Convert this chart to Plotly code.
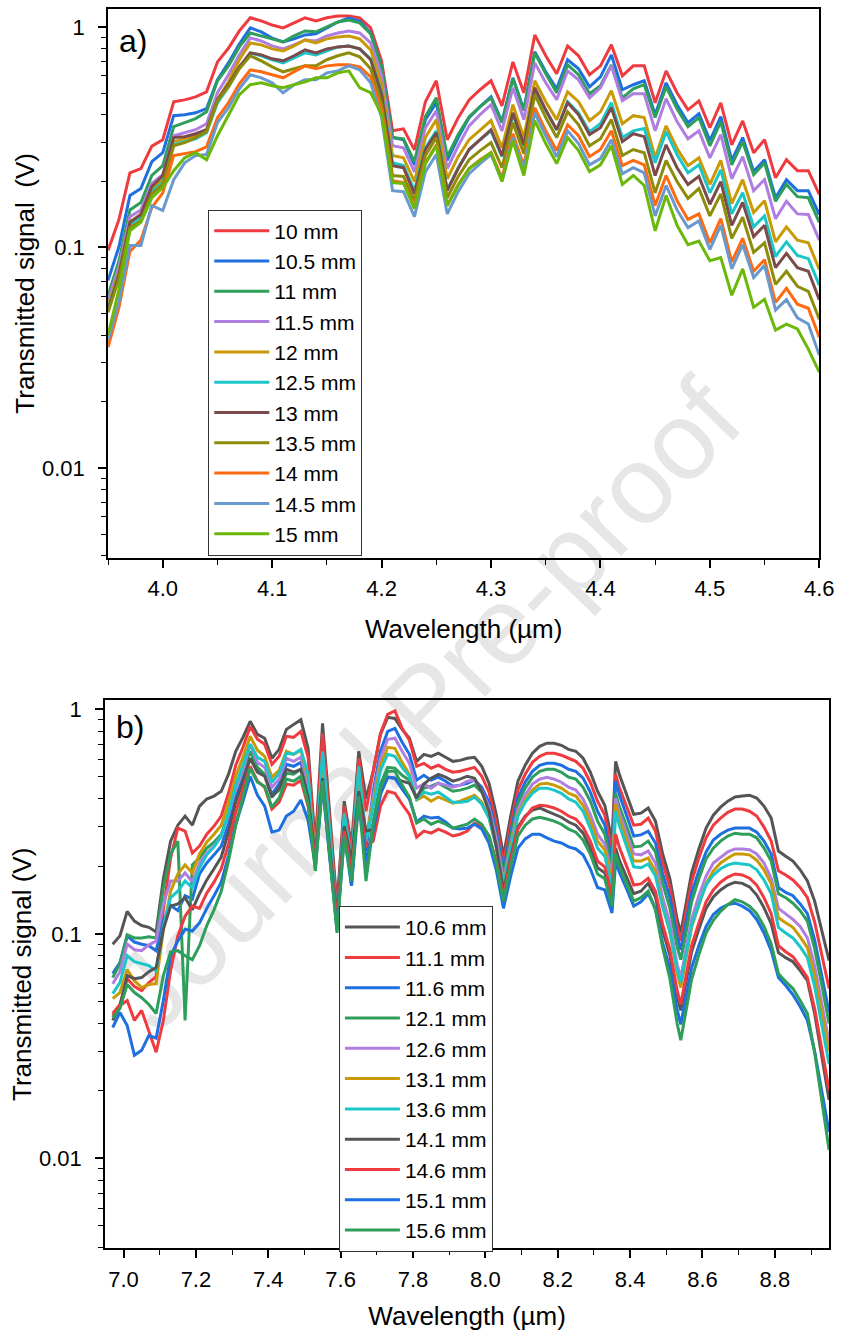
import plotly.graph_objects as go

# ---------------- panel a) data ----------------
wl_a = [3.95, 3.96, 3.97, 3.98, 3.99, 4.00, 4.01, 4.02, 4.03, 4.04, 4.05, 4.06, 4.07, 4.08, 4.09,
        4.10, 4.11, 4.12, 4.13, 4.14, 4.15, 4.16, 4.17, 4.18, 4.19, 4.20, 4.21, 4.22, 4.23, 4.24,
        4.25, 4.26, 4.27, 4.28, 4.29, 4.30, 4.31, 4.32, 4.33, 4.34, 4.35, 4.36, 4.37, 4.38, 4.39,
        4.40, 4.41, 4.42, 4.43, 4.44, 4.45, 4.46, 4.47, 4.48, 4.49, 4.50, 4.51, 4.52, 4.53, 4.54,
        4.55, 4.56, 4.57, 4.58, 4.59, 4.60]

a_10 = [.097, .134, .218, .228, .288, .308, .458, .467, .482, .508, .694, .80, .96, 1.10, 1.065,
        1.02, .99, 1.04, 1.10, 1.065, 1.10, 1.12, 1.12, 1.10, .99, .70, .338, .345, .277, .458,
        .57, .308, .388, .467, .519, .57, .439, .694, .503, .92, .74, .613, .82, .74, .607,
        .666, .83, .60, .666, .666, .453, .632, .503, .421, .462, .349, .453, .292, .375, .269,
        .308, .207, .25, .223, .223, .174]
a_10_5 = [.0709, .101, .172, .185, .245, .269, .396, .400, .408, .426, .576, .687, .837, .99, .95,
          .89, .855, .883, .92, .93, .99, 1.053, 1.098, 1.064, .939, .659, .315, .308, .237, .380,
          .453, .248, .315, .388, .435, .482, .372, .588, .421, .771, .626, .524, .710, .646, .535,
          .594, .747, .519, .547, .570, .400, .558, .444, .368, .404, .305, .392, .248, .315, .221,
          .250, .168, .203, .181, .181, .141]
a_11 = [.0607, .087, .148, .160, .212, .235, .353, .368, .384, .412, .570, .666, .812, .939, .91,
        .883, .855, .91, .959, .95, 1.00, 1.053, 1.075, 1.043, .93, .659, .315, .311, .245, .392,
        .477, .258, .325, .392, .435, .477, .368, .582, .417, .763, .613, .503, .673, .607, .498,
        .541, .673, .477, .524, .547, .388, .535, .426, .353, .388, .289, .372, .237, .302, .214,
        .242, .162, .193, .170, .168, .130]
a_11_5 = [.0576, .082, .138, .148, .195, .214, .321, .331, .342, .364, .503, .607, .747, .892, .864,
          .82, .795, .829, .873, .864, .91, .939, .959, .939, .846, .60, .289, .283, .220, .349,
          .417, .228, .289, .356, .400, .444, .338, .530, .380, .687, .558, .468, .632, .576, .477,
          .530, .666, .463, .498, .498, .338, .473, .372, .311, .338, .255, .325, .205, .258, .181,
          .203, .135, .162, .142, .141, .108]
a_12 = [.0547, .0779, .131, .141, .185, .203, .302, .311, .321, .342, .468, .564, .710, .846, .829,
        .795, .779, .82, .873, .846, .883, .901, .91, .883, .787, .547, .261, .255, .199, .315,
        .380, .205, .258, .308, .342, .376, .283, .444, .315, .570, .458, .380, .508, .458, .376,
        .412, .514, .364, .396, .388, .255, .356, .281, .235, .255, .193, .248, .158, .203, .144,
        .163, .106, .124, .108, .105, .0795]
a_12_5 = [.053, .0755, .127, .137, .179, .197, .292, .302, .311, .331, .453, .535, .652, .763, .74,
          .71, .687, .724, .763, .747, .779, .812, .82, .795, .717, .503, .242, .235, .181, .283,
          .338, .183, .230, .278, .308, .338, .258, .400, .286, .519, .417, .342, .458, .408, .335,
          .364, .453, .315, .338, .346, .242, .335, .264, .218, .237, .177, .225, .142, .177, .124,
          .139, .091, .106, .092, .089, .0674]
a_13 = [.0519, .0755, .130, .141, .189, .212, .315, .318, .328, .342, .468, .547, .659, .763, .747,
        .717, .702, .74, .787, .763, .795, .812, .82, .795, .710, .493, .235, .230, .175, .278,
        .331, .181, .228, .278, .308, .342, .261, .408, .292, .530, .421, .342, .453, .400, .325,
        .349, .430, .302, .328, .318, .212, .292, .230, .193, .210, .157, .199, .126, .160, .112,
        .126, .081, .094, .081, .078, .058]
a_13_5 = [.0508, .0724, .123, .132, .175, .193, .289, .299, .315, .335, .463, .535, .646, .74, .702,
          .659, .626, .646, .666, .666, .71, .74, .763, .732, .646, .449, .212, .210, .163, .261,
          .315, .168, .210, .25, .275, .299, .230, .368, .266, .493, .388, .315, .412, .360, .289,
          .311, .380, .261, .278, .269, .177, .248, .199, .167, .185, .139, .175, .110, .137, .095,
          .105, .068, .078, .0667, .0633, .0473]
a_14 = [.0353, .0535, .096, .108, .152, .177, .261, .266, .272, .286, .388, .453, .552, .639, .626,
        .607, .588, .626, .666, .646, .666, .673, .673, .659, .594, .417, .201, .197, .153, .242,
        .292, .155, .193, .228, .25, .269, .207, .328, .235, .430, .338, .275, .360, .321, .258,
        .278, .338, .235, .248, .237, .155, .212, .163, .134, .142, .105, .135, .086, .110, .078,
        .088, .0564, .0653, .0553, .053, .0392]
a_14_5 = [.038, .057, .102, .102, .155, .147, .203, .242, .261, .264, .368, .430, .524, .607, .588,
          .558, .503, .547, .576, .576, .619, .632, .666, .639, .558, .388, .181, .179, .138, .220,
          .264, .142, .179, .216, .240, .264, .201, .315, .225, .408, .321, .258, .338, .296, .237,
          .253, .308, .216, .230, .218, .139, .191, .148, .123, .132, .098, .126, .080, .103, .073,
          .083, .052, .058, .048, .045, .0325]
a_15 = [.040, .0646, .119, .130, .168, .187, .223, .255, .269, .25, .321, .400, .493, .547, .558,
        .541, .530, .547, .564, .588, .588, .619, .632, .530, .503, .400, .197, .195, .150, .240,
        .289, .155, .191, .228, .248, .269, .199, .305, .212, .376, .296, .240, .315, .275, .221,
        .237, .289, .193, .212, .191, .119, .172, .126, .103, .107, .087, .090, .0607, .080, .0535,
        .0582, .0422, .0449, .0427, .0346, .0272]

names_a = ["10 mm", "10.5 mm", "11 mm", "11.5 mm", "12 mm", "12.5 mm",
           "13 mm", "13.5 mm", "14 mm", "14.5 mm", "15 mm"]
colors_a = ["#EF3B3F", "#1E6FE0", "#2E9E5B", "#B07EE0", "#C99A06", "#1BC6C9",
            "#7B4B4B", "#8C8C0A", "#FF6A10", "#6A9ACD", "#6AB80A"]
series_a = [a_10, a_10_5, a_11, a_11_5, a_12, a_12_5, a_13, a_13_5, a_14, a_14_5, a_15]

# ---------------- panel b) data ----------------
wl_b = [6.97, 6.99, 7.01, 7.03, 7.05, 7.07, 7.09, 7.11, 7.13, 7.15, 7.17, 7.19, 7.21, 7.23, 7.25,
        7.27, 7.29, 7.31, 7.33, 7.35, 7.37, 7.39, 7.41, 7.43, 7.45, 7.47, 7.49, 7.51, 7.53, 7.55,
        7.57, 7.59, 7.61, 7.63, 7.65, 7.67, 7.69, 7.71, 7.73, 7.75, 7.77, 7.79, 7.81, 7.83, 7.85,
        7.87, 7.89, 7.91, 7.93, 7.95, 7.97, 7.99, 8.01, 8.03, 8.05, 8.07, 8.09, 8.11, 8.13, 8.15,
        8.17, 8.19, 8.21, 8.23, 8.25, 8.27, 8.29, 8.31, 8.33, 8.35, 8.36, 8.37, 8.39, 8.41, 8.43,
        8.45, 8.47, 8.49, 8.51, 8.53, 8.54, 8.55, 8.57, 8.59, 8.61, 8.63, 8.65, 8.67, 8.69, 8.71,
        8.73, 8.75, 8.77, 8.79, 8.81, 8.83, 8.85, 8.87, 8.89, 8.91, 8.93, 8.95]

b_10_6 = [.090, .098, .126, .114, .109, .107, .102, .176, .259, .305, .335, .305, .371, .399, .411,
          .432, .514, .651, .751, .885, .774, .744, .606, .664, .815, .860, .900, .671, .246, .867,
          .335, .133, .390, .246, .651, .399, .530, .774, .922, .912, .815, .744, .587, .631, .618,
          .638, .612, .587, .593, .606, .612, .558, .469, .341, .222, .335, .479, .564, .638, .685,
          .707, .707, .692, .664, .651, .606, .525, .432, .374, .259, .587, .514, .419, .341, .345,
          .364, .318, .227, .176, .116, .101, .123, .187, .239, .296, .338, .367, .390, .407, .411,
          .415, .403, .371, .328, .234, .222, .211, .193, .172, .140, .103, .076]
b_11_1 = [.0442, .0485, .0632, .0583, .0559, .0607, .0645, .128, .218, .296, .287, .229, .246, .278, .302,
          .335, .423, .564, .678, .840, .736, .699, .569, .618, .759, .751, .798, .612, .234, .782,
          .312, .127, .371, .234, .606, .352, .530, .782, .951, .985, .823, .729, .558, .575, .547,
          .564, .541, .525, .530, .541, .552, .504, .428, .312, .207, .308, .437, .514, .581, .618,
          .638, .638, .625, .606, .587, .547, .474, .390, .338, .234, .514, .450, .371, .305, .308,
          .328, .287, .207, .161, .108, .093, .113, .170, .218, .268, .305, .328, .348, .360, .360,
          .352, .335, .299, .259, .191, .183, .174, .161, .145, .113, .0808, .0571]
b_11_6 = [.0665, .0745, .098, .092, .090, .0886, .0842, .115, .134, .127, .148, .143, .185, .207, .225,
          .246, .308, .407, .494, .606, .530, .514, .419, .465, .569, .558, .581, .441, .207, .547,
          .259, .116, .335, .164, .504, .234, .432, .651, .798, .823, .714, .631, .484, .509, .484,
          .499, .479, .455, .460, .469, .484, .450, .386, .287, .191, .284, .403, .474, .530, .564,
          .575, .575, .564, .541, .530, .494, .428, .352, .305, .211, .479, .419, .338, .273, .276,
          .287, .254, .185, .145, .097, .085, .102, .152, .191, .232, .262, .278, .290, .296, .296,
          .296, .284, .259, .227, .161, .153, .148, .136, .123, .094, .0645, .0447]
b_12_1 = [.0639, .0737, .099, .096, .096, .097, .096, .161, .227, .259, .0412, .203, .218, .241, .256,
          .278, .345, .450, .536, .651, .552, .514, .411, .437, .519, .514, .541, .415, .195, .519,
          .234, .109, .287, .172, .432, .191, .318, .465, .552, .547, .509, .484, .399, .446, .455,
          .469, .450, .432, .437, .446, .460, .428, .367, .273, .181, .270, .382, .446, .499, .530,
          .541, .541, .525, .499, .489, .450, .390, .318, .278, .195, .423, .371, .302, .244, .246,
          .259, .232, .168, .130, .0877, .0768, .092, .139, .176, .216, .241, .259, .273, .281, .278,
          .278, .268, .241, .211, .151, .145, .137, .127, .114, .086, .0589, .0399]
b_12_6 = [.060, .0679, .090, .085, .0842, .0894, .093, .136, .172, .172, .187, .170, .207, .229, .246,
          .273, .338, .446, .541, .700, .581, .552, .450, .489, .606, .587, .612, .465, .216, .575,
          .273, .103, .318, .191, .530, .259, .407, .606, .736, .744, .651, .575, .446, .465, .446,
          .469, .460, .450, .460, .479, .484, .437, .367, .265, .172, .254, .360, .415, .465, .489,
          .499, .489, .474, .450, .437, .399, .341, .278, .251, .181, .403, .348, .281, .227, .225,
          .234, .207, .145, .112, .0730, .0639, .0775, .116, .148, .181, .207, .220, .232, .239, .239,
          .237, .227, .207, .177, .130, .123, .116, .108, .096, .0722, .0485, .0329]
b_13_1 = [.0515, .0548, .0693, .0619, .0577, .0595, .0601, .104, .155, .185, .203, .187, .227, .256, .278,
          .305, .382, .504, .612, .759, .658, .618, .499, .536, .651, .631, .658, .494, .220, .606,
          .273, .112, .325, .201, .530, .273, .386, .564, .678, .671, .581, .514, .395, .411, .390,
          .407, .395, .382, .390, .403, .415, .386, .331, .246, .164, .241, .341, .395, .437, .465,
          .469, .460, .446, .423, .411, .374, .318, .259, .237, .172, .378, .328, .265, .211, .211,
          .218, .189, .133, .102, .0672, .0577, .0700, .107, .134, .167, .191, .207, .218, .227, .227,
          .225, .213, .193, .167, .118, .112, .107, .097, .0868, .0652, .0442, .0300]
b_13_6 = [.0542, .0607, .0800, .0752, .0737, .0722, .0686, .108, .145, .155, .172, .161, .197, .225, .244,
          .273, .345, .460, .564, .700, .612, .587, .474, .519, .638, .631, .664, .514, .199, .651,
          .287, .114, .345, .211, .558, .259, .371, .536, .631, .618, .552, .504, .399, .428, .419,
          .428, .407, .386, .386, .390, .407, .378, .328, .244, .164, .239, .335, .386, .423, .446,
          .446, .437, .423, .399, .386, .352, .296, .241, .222, .164, .352, .305, .246, .199, .197,
          .205, .181, .132, .103, .0693, .0607, .0730, .109, .136, .165, .183, .195, .203, .207, .205,
          .203, .193, .174, .151, .107, .101, .096, .0877, .0784, .0583, .0391, .0263]
b_14_1 = [.0412, .0475, .0652, .0632, .0639, .0679, .0708, .105, .133, .136, .145, .128, .151, .174, .195,
          .220, .284, .386, .479, .606, .525, .504, .407, .446, .541, .525, .541, .407, .222, .494,
          .239, .120, .302, .211, .432, .287, .293, .423, .499, .494, .479, .469, .403, .465, .494,
          .514, .499, .479, .489, .504, .494, .432, .352, .246, .155, .220, .299, .335, .356, .364,
          .352, .341, .331, .315, .305, .281, .241, .197, .187, .140, .241, .213, .179, .151, .155,
          .168, .146, .104, .0800, .0526, .0456, .0553, .0833, .105, .130, .146, .157, .165, .170, .168,
          .162, .149, .131, .111, .0825, .0784, .0752, .0686, .0619, .0442, .0282, .0182]
b_14_6 = [.0433, .0480, .0505, .0412, .0456, .0372, .0297, .0412, .0686, .098, .120, .133, .130, .152, .170,
          .195, .251, .348, .437, .558, .479, .450, .360, .386, .465, .460, .484, .371, .216, .469,
          .222, .116, .287, .191, .390, .246, .259, .371, .432, .423, .378, .341, .270, .287, .281,
          .293, .284, .273, .278, .287, .312, .302, .273, .211, .148, .213, .293, .331, .364, .374,
          .371, .364, .352, .335, .325, .299, .259, .211, .199, .148, .278, .244, .201, .165, .167,
          .177, .155, .110, .0851, .0559, .0485, .0589, .0886, .112, .139, .157, .170, .179, .185, .183,
          .177, .165, .145, .123, .0886, .0833, .0792, .0715, .0639, .0465, .0306, .0201]
b_15_1 = [.0383, .0447, .0391, .0288, .0303, .0353, .0343, .0505, .0800, .093, .105, .103, .112, .130, .148,
          .170, .222, .308, .390, .504, .415, .371, .284, .290, .335, .352, .395, .321, .201, .460,
          .216, .105, .273, .164, .390, .211, .287, .419, .499, .494, .441, .399, .315, .335, .328,
          .331, .315, .296, .293, .296, .308, .293, .254, .193, .130, .181, .241, .265, .278, .278,
          .268, .259, .254, .244, .239, .225, .195, .161, .157, .124, .211, .189, .159, .133, .139,
          .151, .130, .091, .0700, .0460, .0395, .0475, .0708, .0886, .108, .122, .130, .135, .137, .133,
          .127, .116, .101, .0842, .0639, .0589, .0536, .0475, .0412, .0300, .0199, .0131]
b_15_6 = [.0424, .0465, .0595, .0548, .0520, .0485, .0442, .0652, .0833, .0842, .0800, .0768, .0886, .109, .128,
          .155, .211, .305, .407, .547, .474, .455, .367, .403, .489, .479, .504, .382, .191, .479,
          .222, .101, .273, .172, .411, .172, .305, .446, .530, .530, .460, .407, .312, .325, .308,
          .318, .308, .296, .302, .308, .325, .308, .273, .207, .140, .201, .273, .305, .325, .331,
          .325, .318, .308, .293, .284, .262, .227, .185, .176, .133, .227, .201, .167, .140, .145,
          .155, .128, .0868, .0632, .0399, .0336, .0408, .0626, .0808, .101, .115, .126, .135, .142, .139,
          .133, .123, .108, .0902, .0665, .0613, .0571, .0505, .0442, .0297, .0182, .0109]

names_b = ["10.6 mm", "11.1 mm", "11.6 mm", "12.1 mm", "12.6 mm", "13.1 mm",
           "13.6 mm", "14.1 mm", "14.6 mm", "15.1 mm", "15.6 mm"]
colors_b = ["#555555", "#EF3B3F", "#1E6FE0", "#2E9E5B", "#B07EE0", "#C99A06",
            "#1BC6C9", "#555555", "#EF3B3F", "#1E6FE0", "#2E9E5B"]
series_b = [b_10_6, b_11_1, b_11_6, b_12_1, b_12_6, b_13_1, b_13_6, b_14_1, b_14_6, b_15_1, b_15_6]

y_ticks = [0.01, 0.1, 1]
y_ticktext = ["0.01", "0.1", "1"]
y_minor = [m * d for d in (0.001, 0.01, 0.1, 1) for m in range(2, 10)]
xa_ticks = [4.0, 4.1, 4.2, 4.3, 4.4, 4.5, 4.6]
xa_minor = [3.95, 4.05, 4.15, 4.25, 4.35, 4.45, 4.55]
xb_ticks = [7.0, 7.2, 7.4, 7.6, 7.8, 8.0, 8.2, 8.4, 8.6, 8.8]
xb_minor = [6.9, 7.1, 7.3, 7.5, 7.7, 7.9, 8.1, 8.3, 8.5, 8.7, 8.9]

FONT = "Liberation Sans, Arial, sans-serif"
W, H = 850, 1338   # the page renders the figure 1:1 at this width

fig = go.Figure()
for nm, col, ys in zip(names_a, colors_a, series_a):
    fig.add_trace(go.Scatter(x=wl_a, y=ys, name=nm, mode="lines",
                             line=dict(color=col, width=3), xaxis="x", yaxis="y",
                             legend="legend"))
for nm, col, ys in zip(names_b, colors_b, series_b):
    fig.add_trace(go.Scatter(x=wl_b, y=ys, name=nm, mode="lines",
                             line=dict(color=col, width=3), xaxis="x2", yaxis="y2",
                             legend="legend2"))

def xax(domain, rng, ticks, minor, anchor, standoff):
    return dict(domain=domain, range=rng, anchor=anchor,
                tickmode="array", tickvals=ticks, ticktext=[f"{t:.1f}" for t in ticks],
                ticks="outside", ticklen=8, tickwidth=1.6, tickcolor="black",
                minor=dict(tickmode="array", tickvals=minor, ticks="outside",
                           ticklen=5, tickwidth=1.4, tickcolor="black"),
                showline=True, linewidth=1.8, linecolor="black", mirror=True,
                showgrid=False, zeroline=False, ticklabelstandoff=2,
                ticklabeloverflow="allow",
                tickfont=dict(size=22, family=FONT, color="black"),
                title=dict(text="Wavelength (µm)", font=dict(size=26, family=FONT, color="black"),
                           standoff=standoff))

def yax(domain, rng, anchor, title):
    return dict(domain=domain, range=rng, type="log", anchor=anchor,
                tickmode="array", tickvals=y_ticks, ticktext=y_ticktext,
                ticks="outside", ticklen=8, tickwidth=1.6, tickcolor="black",
                minor=dict(tickmode="array", tickvals=y_minor, ticks="outside",
                           ticklen=5, tickwidth=1.4, tickcolor="black"),
                showline=True, linewidth=1.8, linecolor="black", mirror=True,
                showgrid=False, zeroline=False, ticklabelstandoff=9,
                tickfont=dict(size=22, family=FONT, color="black"),
                title=dict(text=title, font=dict(size=26, family=FONT, color="black"),
                           standoff=0))

legend_common = dict(xanchor="left", yanchor="top", bgcolor="white",
                     bordercolor="#333333", borderwidth=1,
                     font=dict(size=21, family=FONT, color="black"),
                     itemwidth=55, tracegroupgap=0)

fig.update_layout(
    width=W, height=H, autosize=False,
    margin=dict(l=0, r=0, t=0, b=0),
    paper_bgcolor="white", plot_bgcolor="rgba(0,0,0,0)",
    font=dict(family=FONT, color="black"),
    xaxis=xax([110 / W, 834 / W], [3.95, 4.6], xa_ticks, xa_minor, "y", 20),
    yaxis=yax([1 - 556 / H, 1 - 6 / H], [-2.407, 0.0814], "x", "Transmitted signal \u00a0(V)"),
    xaxis2=xax([107 / W, 844 / W], [6.949, 8.95], xb_ticks, xb_minor, "y2", 16),
    yaxis2=yax([1 - 1248 / H, 1 - 699 / H], [-2.4, 0.04], "x2", "Transmitted signal (V)"),
    legend=dict(x=212 / W, y=1 - 207 / H, **legend_common),
    legend2=dict(x=345 / W, y=1 - 905 / H, **legend_common),
    showlegend=True,
    annotations=[
        dict(text="a)", x=119 / W, y=1 - 38 / H, xref="paper", yref="paper",
             xanchor="left", yanchor="middle", showarrow=False,
             font=dict(size=32, family=FONT, color="black")),
        dict(text="b)", x=116 / W, y=1 - 726 / H, xref="paper", yref="paper",
             xanchor="left", yanchor="middle", showarrow=False,
             font=dict(size=32, family=FONT, color="black")),
    ],
    shapes=[
        dict(type="rect", xref="paper", yref="paper", layer="below",
             x0=0.23, x1=0.77, y0=0.395, y1=0.565, line=dict(width=0),
             fillcolor="rgba(0,0,0,0)",
             label=dict(text="Journal Pre-proof", textangle=-46, textposition="middle center",
                        font=dict(size=110, family=FONT, color="#e6e6e6"))),
    ],
)

fig.write_html("out.html",
               config={"responsive": False, "displayModeBar": False},
               post_script="document.body.style.margin='0px';document.body.style.overflow='hidden';")
